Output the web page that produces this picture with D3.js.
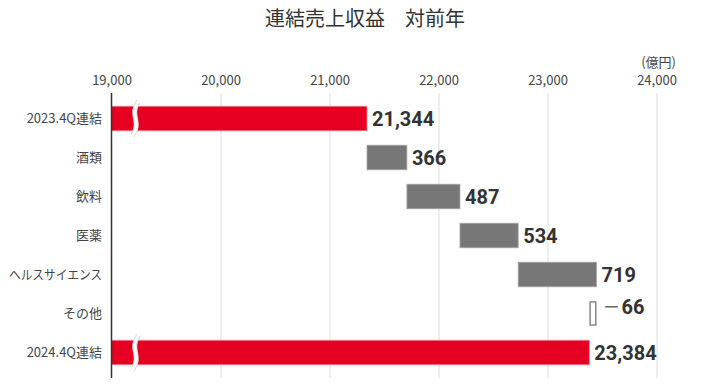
<!DOCTYPE html>
<html>
<head>
<meta charset="utf-8">
<script src="https://cdn.jsdelivr.net/npm/d3@7"></script>
<style>
  html, body { margin: 0; padding: 0; background: #fff; }
  svg { display: block; }
  .tick text { font-family: "Noto Sans CJK JP", "Noto Sans", sans-serif; }
</style>
</head>
<body>
<div id="chart"></div>
<script>
const categories = ["2023.4Q連結", "酒類", "飲料", "医薬", "ヘルスサイエンス", "その他", "2024.4Q連結"];
const kinds = ["total", "delta", "delta", "delta", "delta", "delta", "total"];
const values = [21344, 366, 487, 534, 719, -66, 23384];
const tickValues = [19000, 20000, 21000, 22000, 23000, 24000];

const width = 720;
const height = 388;
const plotTop = 93;
const plotBottom = 378;
const labelRight = 102;

const fmt = d3.format(",");
const jpFont = '"Noto Sans CJK JP", "Noto Sans", sans-serif';
const numFont = 'Roboto, "Noto Sans", sans-serif';

// build waterfall segments
let running = 0;
const rows = categories.map((c, i) => {
  let start, end;
  if (kinds[i] === "total") {
    start = tickValues[0];
    end = values[i];
    running = values[i];
  } else {
    start = running;
    end = running + values[i];
    running = end;
  }
  return { cat: c, kind: kinds[i], value: values[i], start, end };
});

const svg = d3.select("#chart").append("svg")
  .attr("width", width)
  .attr("height", height);

const x = d3.scaleLinear().domain([19000, 24000]).range([111.5, 656.5]);
const y = d3.scaleBand().domain(categories).range([99, 372])
  .paddingInner(0.37).paddingOuter(0.185);

// title
svg.append("text")
  .attr("x", 365)
  .attr("y", 26)
  .attr("text-anchor", "middle")
  .attr("font-family", jpFont)
  .attr("font-size", 20)
  .attr("fill", "#333")
  .text("連結売上収益　対前年");

// unit
svg.append("text")
  .attr("x", 676)
  .attr("y", 67)
  .attr("text-anchor", "end")
  .attr("font-family", jpFont)
  .attr("font-size", 13)
  .attr("fill", "#444")
  .text("(億円)");

// gridlines
svg.append("g")
  .attr("transform", `translate(0,${plotTop})`)
  .call(d3.axisBottom(x).tickValues(tickValues.slice(1)).tickSize(plotBottom - plotTop).tickFormat(""))
  .call(g => g.select(".domain").remove())
  .call(g => g.selectAll("line").attr("stroke", "#ddd").attr("stroke-width", 1));

// tick labels
svg.append("g")
  .attr("transform", `translate(0,${plotTop})`)
  .call(d3.axisTop(x).tickValues(tickValues).tickSize(0).tickPadding(8).tickFormat(fmt))
  .call(g => g.select(".domain").remove())
  .call(g => g.selectAll("text").attr("font-size", 13).attr("fill", "#444"));

// category labels
svg.append("g")
  .selectAll("text")
  .data(rows)
  .join("text")
  .attr("x", labelRight)
  .attr("y", d => y(d.cat) + y.bandwidth() / 2)
  .attr("dy", "0.36em")
  .attr("text-anchor", "end")
  .attr("font-family", jpFont)
  .attr("font-size", 13)
  .attr("fill", "#444")
  .text(d => d.cat)
  .each(function () {
    // squeeze long labels so they fit in the left margin
    const maxW = labelRight - 9;
    if (this.getComputedTextLength() > maxW) {
      d3.select(this).attr("textLength", maxW).attr("lengthAdjust", "spacingAndGlyphs");
    }
  });

// bars
svg.append("g")
  .selectAll("rect")
  .data(rows)
  .join("rect")
  .attr("x", d => x(Math.min(d.start, d.end)) + (d.value < 0 ? 0.75 : 0))
  .attr("y", d => y(d.cat) + (d.value < 0 ? 0.75 : 0))
  .attr("width", d => Math.abs(x(d.end) - x(d.start)) - (d.value < 0 ? 1.5 : 0))
  .attr("height", d => y.bandwidth() - (d.value < 0 ? 1.5 : 0))
  .attr("fill", d => d.kind === "total" ? "#e60021" : d.value < 0 ? "#fff" : "#777")
  .attr("stroke", d => d.kind === "total" ? "#f08a96" : d.value < 0 ? "#888" : "#a8a8a8")
  .attr("stroke-width", d => d.value < 0 ? 1.5 : 0.8);

// axis line
svg.append("line")
  .attr("x1", x(19000)).attr("x2", x(19000))
  .attr("y1", plotTop).attr("y2", plotBottom)
  .attr("stroke", "#333")
  .attr("stroke-width", 1.5);

// break marks on total bars
const breakX = x(19220);
const breaks = svg.append("g")
  .selectAll("g")
  .data(rows.filter(d => d.kind === "total"))
  .join("g");
const breakPath = d => {
  const y0 = y(d.cat) - 5;
  const y1 = y(d.cat) + y.bandwidth() + 5;
  const h = y1 - y0;
  return `M${breakX + 3},${y0} C${breakX - 7},${y0 + h * 0.42} ${breakX + 7},${y0 + h * 0.58} ${breakX - 3},${y1}`;
};
breaks.append("path")
  .attr("d", breakPath)
  .attr("fill", "none")
  .attr("stroke", "#d8d8d8")
  .attr("stroke-width", 5);
breaks.append("path")
  .attr("d", breakPath)
  .attr("fill", "none")
  .attr("stroke", "#fff")
  .attr("stroke-width", 3);

// value labels
const labels = svg.append("g")
  .selectAll("text")
  .data(rows)
  .join("text")
  .attr("x", d => x(Math.max(d.start, d.end)) + (d.value < 0 ? 7 : 5))
  .attr("y", d => y(d.cat) + y.bandwidth() / 2)
  .attr("dy", "0.36em")
  .attr("font-family", numFont)
  .attr("font-size", 20)
  .attr("font-weight", "bold")
  .attr("fill", "#333");

labels.each(function (d) {
  const t = d3.select(this);
  if (d.value < 0) {
    t.append("tspan")
      .attr("font-family", jpFont)
      .attr("font-weight", "normal")
      .attr("font-size", 16)
      .attr("fill", "#666")
      .attr("dy", "-0.05em")
      .text("ー");
    t.append("tspan")
      .attr("dx", 2)
      .attr("dy", "0.05em")
      .text(fmt(Math.abs(d.value)));
  } else {
    t.text(fmt(d.value));
  }
});
</script>
</body>
</html>
